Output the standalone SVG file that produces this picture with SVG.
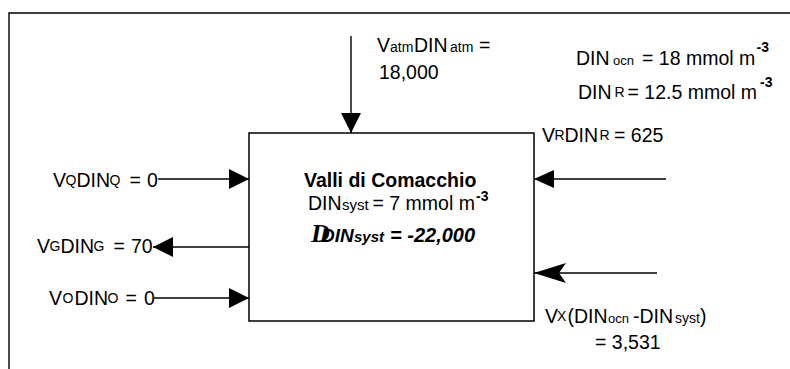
<svg xmlns="http://www.w3.org/2000/svg" width="790" height="369" viewBox="0 0 790 369">
<style>
text{font-family:"Liberation Sans",Arial,sans-serif;font-size:19.5px;fill:#000}
.s{font-size:14px}
.t{font-size:13px}
.u{font-size:15px}
.sup{font-size:14px;font-weight:bold}
.b{font-weight:bold}
.bi{font-weight:bold;font-style:italic}
.ln{stroke:#000;stroke-width:1.4;fill:none}
</style>
<defs>
<marker id="tri" markerUnits="userSpaceOnUse" markerWidth="20" markerHeight="20" refX="20" refY="10" orient="auto" viewBox="0 0 20 20"><path d="M0,0 L20,10 L0,20 z" fill="#000"/></marker>
<marker id="tri2" markerUnits="userSpaceOnUse" markerWidth="20" markerHeight="18" refX="20" refY="9" orient="auto" viewBox="0 0 20 18"><path d="M0,0 L20,9 L0,18 z" fill="#000"/></marker>
<marker id="stealth" markerUnits="userSpaceOnUse" markerWidth="32" markerHeight="20" refX="32" refY="10" orient="auto" viewBox="0 0 32 20"><path d="M0,0 L32,10 L0,20 L7,10 z" fill="#000"/></marker>
</defs>
<path class="ln" d="M9,369 V13 H790" stroke-width="1.5"/>
<g id="system">
<rect x="249" y="133" width="285" height="188" fill="none" stroke="#000" stroke-width="1.5"/>
<text class="b" x="304" y="187" font-size="20px">Valli di Comacchio</text>
<text y="210"><tspan x="308">DIN</tspan><tspan class="u" x="342">syst</tspan><tspan x="372.5">= 7 mmol m</tspan><tspan class="sup" x="476" dy="-9">-3</tspan></text>
<text class="bi" y="242"><tspan x="311" font-family="Liberation Serif,serif" font-size="26px">D</tspan><tspan x="321" font-size="19px">DIN</tspan><tspan class="u" x="354">syst</tspan><tspan x="390" font-size="20px">= -22,000</tspan></text>
</g>
<g id="atm">
<text y="52"><tspan x="377">V</tspan><tspan class="s" x="390">atm</tspan><tspan x="414">DIN</tspan><tspan class="s" x="450">atm</tspan><tspan x="479">=</tspan></text>
<text x="379" y="79" font-size="19px">18,000</text>
</g>
<g id="conc">
<text y="65"><tspan x="576">DIN</tspan><tspan class="t" x="613">ocn</tspan><tspan x="642">= 18 mmol m</tspan><tspan class="sup" x="756.5" dy="-13">-3</tspan></text>
<text y="99"><tspan x="578">DIN</tspan><tspan class="s" x="614.5" dy="-2">R</tspan><tspan x="627.5" dy="2">= 12.5 mmol m</tspan><tspan class="sup" x="760" dy="-12">-3</tspan></text>
</g>
<g id="river">
<text y="142"><tspan x="542">V</tspan><tspan class="s" x="554.5" dy="-2">R</tspan><tspan x="564.5" dy="2">DIN</tspan><tspan class="s" x="599.5" dy="-2">R</tspan><tspan x="614" dy="2">= 625</tspan></text>
</g>
<g id="exchange">
<text y="323"><tspan x="545">V</tspan><tspan class="s" x="557" dy="-2">X</tspan><tspan x="567.5" dy="2">(DIN</tspan><tspan class="t" x="608">ocn</tspan><tspan x="633">-DIN</tspan><tspan class="s" x="675">syst</tspan><tspan x="700">)</tspan></text>
<text x="595" y="349" font-size="19px">= 3,531</text>
</g>
<g id="q">
<text y="187"><tspan x="53">V</tspan><tspan class="s" x="65.5" dy="-2">Q</tspan><tspan x="76.5" dy="2">DIN</tspan><tspan class="s" x="109.5" dy="-2">Q</tspan><tspan x="129.5" dy="2">=</tspan><tspan x="147">0</tspan></text>
</g>
<g id="g">
<text y="253"><tspan x="37">V</tspan><tspan class="s" x="49.5" dy="-2">G</tspan><tspan x="60.5" dy="2">DIN</tspan><tspan class="s" x="93.5" dy="-2">G</tspan><tspan x="113.5" dy="2">=</tspan><tspan x="131">70</tspan></text>
</g>
<g id="o">
<text y="305"><tspan x="49">V</tspan><tspan class="s" x="62.5" dy="-2">O</tspan><tspan x="74.5" dy="2">DIN</tspan><tspan class="s" x="107.5" dy="-2">O</tspan><tspan x="125.5" dy="2">=</tspan><tspan x="144">0</tspan></text>
</g>
<g id="connectors">
<line class="ln" x1="351" y1="36" x2="351" y2="133" marker-end="url(#tri)"/>
<line class="ln" x1="158" y1="179" x2="249" y2="179" marker-end="url(#tri)"/>
<line class="ln" x1="249" y1="247" x2="153" y2="247" marker-end="url(#tri)"/>
<line class="ln" x1="153" y1="298" x2="249" y2="298" marker-end="url(#tri)"/>
<line class="ln" x1="666" y1="179" x2="534" y2="179" marker-end="url(#tri2)"/>
<line class="ln" x1="657" y1="273" x2="534" y2="273" marker-end="url(#stealth)"/>
</g>
</svg>
